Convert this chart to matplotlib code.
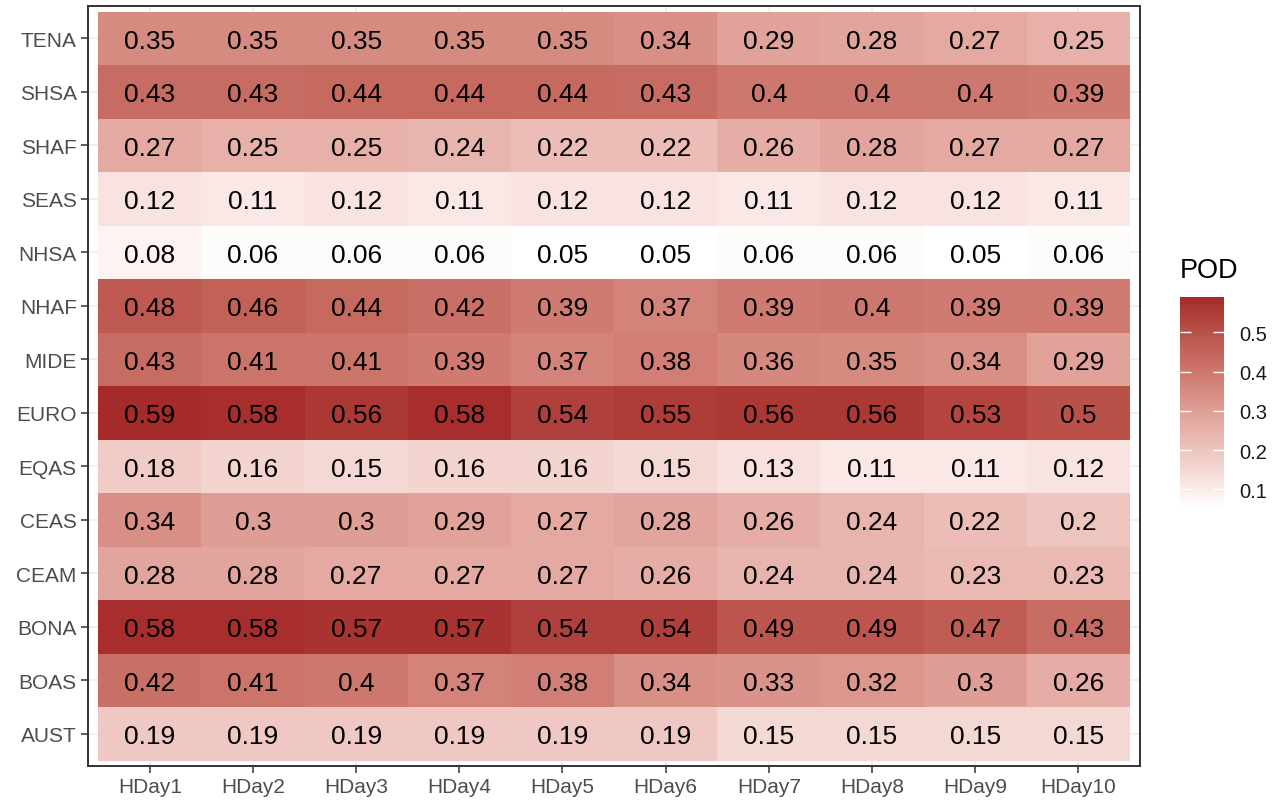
import numpy as np
import matplotlib.pyplot as plt
from matplotlib.colors import ListedColormap

# regions, top to bottom as shown
regions = ["TENA", "SHSA", "SHAF", "SEAS", "NHSA", "NHAF", "MIDE",
           "EURO", "EQAS", "CEAS", "CEAM", "BONA", "BOAS", "AUST"]
days = ["HDay1", "HDay2", "HDay3", "HDay4", "HDay5",
        "HDay6", "HDay7", "HDay8", "HDay9", "HDay10"]

tena = [0.35, 0.35, 0.35, 0.35, 0.35, 0.34, 0.29, 0.28, 0.27, 0.25]
shsa = [0.43, 0.43, 0.44, 0.44, 0.44, 0.43, 0.40, 0.40, 0.40, 0.39]
shaf = [0.27, 0.25, 0.25, 0.24, 0.22, 0.22, 0.26, 0.28, 0.27, 0.27]
seas = [0.12, 0.11, 0.12, 0.11, 0.12, 0.12, 0.11, 0.12, 0.12, 0.11]
nhsa = [0.08, 0.06, 0.06, 0.06, 0.05, 0.05, 0.06, 0.06, 0.05, 0.06]
nhaf = [0.48, 0.46, 0.44, 0.42, 0.39, 0.37, 0.39, 0.40, 0.39, 0.39]
mide = [0.43, 0.41, 0.41, 0.39, 0.37, 0.38, 0.36, 0.35, 0.34, 0.29]
euro = [0.59, 0.58, 0.56, 0.58, 0.54, 0.55, 0.56, 0.56, 0.53, 0.50]
eqas = [0.18, 0.16, 0.15, 0.16, 0.16, 0.15, 0.13, 0.11, 0.11, 0.12]
ceas = [0.34, 0.30, 0.30, 0.29, 0.27, 0.28, 0.26, 0.24, 0.22, 0.20]
ceam = [0.28, 0.28, 0.27, 0.27, 0.27, 0.26, 0.24, 0.24, 0.23, 0.23]
bona = [0.58, 0.58, 0.57, 0.57, 0.54, 0.54, 0.49, 0.49, 0.47, 0.43]
boas = [0.42, 0.41, 0.40, 0.37, 0.38, 0.34, 0.33, 0.32, 0.30, 0.26]
aust = [0.19, 0.19, 0.19, 0.19, 0.19, 0.19, 0.15, 0.15, 0.15, 0.15]

pod = np.array([tena, shsa, shaf, seas, nhsa, nhaf, mide,
                euro, eqas, ceas, ceam, bona, boas, aust])[::-1]
row_labels = regions[::-1]


# white -> brown, interpolated in Lab like ggplot does
def srgb_to_lab(c):
    c = np.asarray(c, float)
    lin = np.where(c <= 0.04045, c / 12.92, ((c + 0.055) / 1.055) ** 2.4)
    m = np.array([[0.4124, 0.3576, 0.1805],
                  [0.2126, 0.7152, 0.0722],
                  [0.0193, 0.1192, 0.9505]])
    xyz = m @ lin / np.array([0.95047, 1.0, 1.08883])
    f = np.where(xyz > 0.008856, np.cbrt(xyz), 7.787 * xyz + 16 / 116)
    return np.array([116 * f[1] - 16, 500 * (f[0] - f[1]), 200 * (f[1] - f[2])])


def lab_to_srgb(lab):
    L, a, b = lab
    fy = (L + 16) / 116
    fx = fy + a / 500
    fz = fy - b / 200
    f = np.array([fx, fy, fz])
    xyz = np.where(f ** 3 > 0.008856, f ** 3, (f - 16 / 116) / 7.787)
    xyz = xyz * np.array([0.95047, 1.0, 1.08883])
    minv = np.array([[3.2406, -1.5372, -0.4986],
                     [-0.9689, 1.8758, 0.0415],
                     [0.0557, -0.2040, 1.0570]])
    lin = minv @ xyz
    c = np.where(lin <= 0.0031308, 12.92 * lin, 1.055 * np.clip(lin, 0, None) ** (1 / 2.4) - 0.055)
    return np.clip(c, 0, 1)


lo = srgb_to_lab([1, 1, 1])
hi = srgb_to_lab([165 / 255, 42 / 255, 42 / 255])
cmap = ListedColormap([lab_to_srgb(lo + t * (hi - lo)) for t in np.linspace(0, 1, 256)])

plt.rcParams['font.family'] = ['Liberation Sans', 'DejaVu Sans']

fig = plt.figure(figsize=(12.84, 8.03), dpi=100)
ax = fig.add_axes([0.0685, 0.045, 0.8195, 0.946])

nr, nc = pod.shape
for i in range(nc):
    ax.axvline(i, color='#EBEBEB', lw=1.1, zorder=0)
for j in range(nr):
    ax.axhline(j, color='#EBEBEB', lw=1.1, zorder=0)

mesh = ax.pcolormesh(np.arange(nc + 1) - 0.5, np.arange(nr + 1) - 0.5, pod,
                     cmap=cmap, vmin=0.05, vmax=0.59, zorder=1)

for j in range(nr):
    for i in range(nc):
        ax.text(i, j, f"{pod[j, i]:g}", ha='center', va='center_baseline',
                fontsize=19, color='black', zorder=2)

ax.set_xlim(-0.6, nc - 0.4)
ax.set_ylim(-0.6, nr - 0.4)
ax.set_xticks(range(nc))
ax.set_xticklabels(days)
ax.set_yticks(range(nr))
ax.set_yticklabels(row_labels)
ax.tick_params(length=5, width=1.1, color='#333333', labelcolor='#4D4D4D',
               labelsize=15, pad=3)
for s in ax.spines.values():
    s.set_color('#333333')
    s.set_linewidth(1.4)

cax = fig.add_axes([0.919, 0.365, 0.0343, 0.264])
cb = fig.colorbar(mesh, cax=cax)
cb.outline.set_visible(False)
cb.set_ticks([0.1, 0.2, 0.3, 0.4, 0.5])
cb.set_ticklabels(["0.1", "0.2", "0.3", "0.4", "0.5"])
cax.tick_params(axis='y', direction='in', left=True, right=True, length=8,
                width=1, color='white', labelcolor='#1A1A1A', labelsize=14.5, pad=11)
fig.text(0.919, 0.646, "POD", fontsize=19.5, ha='left', va='bottom')

fig.savefig("out.png", dpi=100)
